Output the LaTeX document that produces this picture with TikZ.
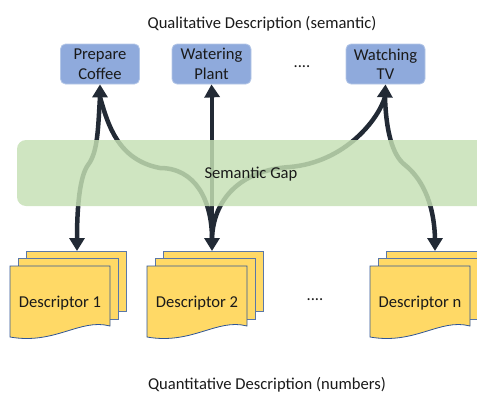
\documentclass[tikz,border=0pt]{standalone}
\usepackage{fontspec}
\setmainfont{Carlito}
\usetikzlibrary{arrows.meta}
\definecolor{arrowc}{HTML}{222A35}
\definecolor{boxc}{HTML}{8FAADC}
\definecolor{boxb}{HTML}{B4C7E7}
\definecolor{bandc}{HTML}{C5E0B4}
\definecolor{docc}{HTML}{FFD966}
\definecolor{docb}{HTML}{2F5597}
\definecolor{docb2}{HTML}{5A77A8}
\definecolor{txt}{HTML}{1A1A1A}
\tikzset{
  lbl/.style={text=txt,font=\fontsize{16.6}{19.5}\selectfont,inner sep=0pt},
  actbox/.style={lbl,fill=boxc,draw=boxb,line width=0.8pt,rounded corners=5pt,
    minimum width=79pt,minimum height=40pt,align=center},
  conn/.style={draw=arrowc,line width=4.5pt},
  head/.style={draw=arrowc,line width=4.5pt,-{Triangle[width=15pt,length=13pt]}},
  docfront/.style={fill=docc,draw=docb,line width=0.8pt},
  docback/.style={fill=docc,draw=docb2,line width=0.8pt},
  band/.style={fill=bandc,fill opacity=0.83,rounded corners=9pt}
}
\begin{document}
\begin{tikzpicture}[x=1pt,y=-1pt]
\useasboundingbox (0,0) rectangle (477,394);
% titles
\node[lbl] (qual) at (262,23.5) {Qualitative Description (semantic)};
\node[lbl] (quan) at (267,385) {Quantitative Description (numbers)};
% activity boxes
\node[actbox] (pc) at (100,64) {Prepare\\Coffee};
\node[actbox] (wp) at (211.5,64) {Watering\\Plant};
\node[actbox] (tv) at (385.5,64) {Watching\\TV};
\node[lbl] (dtop) at (302,67) {....};
% descriptors
\foreach \L/\nm/\t in {10/d1/Descriptor 1,147/d2/Descriptor 2,370/dn/Descriptor n}{
  \draw[docback] ({\L+16},251) rectangle ({\L+116},311);
  \draw[docback] ({\L+8},258.7) rectangle ({\L+108},319);
  \draw[docfront] (\L,266) -- ({\L+100},266) -- ({\L+100},326)
     .. controls ({\L+70},318) and ({\L+45},345) .. (\L,337) -- cycle;
  \node[lbl] (\nm) at ({\L+50},303) {\t};
}
\node[lbl] (dbot) at (315,300) {....};
% connector coordinates
\coordinate (d1t) at (77,251);
\coordinate (d2t) at (212,251);
\coordinate (dnt) at (435,251);
\coordinate (pcb) at (100,97);
\coordinate (wpb) at (212,97);
\coordinate (tvb) at (385,97);
\coordinate (d1b) at (77,239);
\coordinate (d2b) at (212,239);
\coordinate (dnb) at (435,239);
% curves
\draw[conn] (pcb) .. controls (98,128) and (98,152) .. (88,165)
  .. controls (80,176) and (77,205) .. (d1b);
\draw[conn] (pcb) .. controls (108,125) and (118,160) .. (160,168)
  .. controls (195,168) and (212,200) .. (d2b);
\draw[conn] (wpb) -- (d2b);
\draw[conn] (tvb) .. controls (378,120) and (345,162) .. (290,167)
  .. controls (240,170) and (213,200) .. (d2b);
\draw[conn] (tvb) .. controls (386,130) and (392,155) .. (405,165)
  .. controls (420,177) and (434,200) .. (dnb);
% heads
\draw[head] ([yshift=2pt]pcb) -- (pc.south);
\draw[head] ([yshift=2pt]wpb) -- (wp.south);
\draw[head] ([yshift=2pt]tvb) -- (tv.south);
\draw[head] ([yshift=-2pt]d1b) -- (d1t);
\draw[head] ([yshift=-2pt]d2b) -- (d2t);
\draw[head] ([yshift=-2pt]dnb) -- (dnt);
% semantic gap band
\fill[band] (17,140) rectangle (500,206);
\node[lbl] (gap) at (251,174) {Semantic Gap};
\end{tikzpicture}
\end{document}
